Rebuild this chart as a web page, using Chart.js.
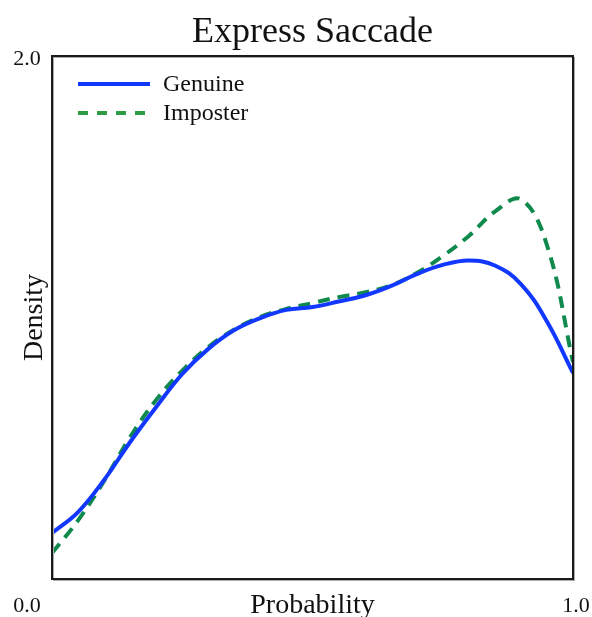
<!DOCTYPE html>
<html>
<head>
<meta charset="utf-8">
<script src="https://cdn.jsdelivr.net/npm/chart.js@4"></script>
<style>
  html, body { margin: 0; padding: 0; background: #fff; }
  #wrap { width: 592px; height: 617px; }
</style>
</head>
<body>
<div id="wrap"><canvas id="chartCanvas" width="592" height="617"></canvas></div>
<script>
// --- data ---
const probability = [0, 0.05, 0.1, 0.15, 0.2, 0.25, 0.3, 0.35, 0.4, 0.45, 0.5,
  0.55, 0.6, 0.65, 0.7, 0.75, 0.8, 0.85, 0.9, 0.95, 1.0];
const genuine = [0.176, 0.256, 0.379, 0.524, 0.658, 0.784, 0.880, 0.952, 0.998, 1.029, 1.040,
  1.061, 1.084, 1.120, 1.166, 1.201, 1.218, 1.199, 1.128, 0.985, 0.788];
const imposter = [0.099, 0.224, 0.375, 0.543, 0.685, 0.797, 0.887, 0.954, 1.002, 1.033, 1.055,
  1.078, 1.096, 1.122, 1.170, 1.235, 1.312, 1.405, 1.452, 1.277, 0.830];
const seriesNames = ["Genuine", "Imposter"];
const yTickLabels = ["0.0", "2.0"];
const xTickLabels = ["0.0", "1.0"];

const FONT = "'Liberation Serif', 'DejaVu Serif', serif";
const BLUE = "#1238ff";
const GREEN = "#0f8a4c";

const toPoints = ys => probability.map((x, i) => ({ x, y: ys[i] }));

// frame, title, tick labels, axis titles and legend drawn by hand
const decorations = {
  id: "decorations",
  afterDatasetsDraw(chart) {
    const { ctx, chartArea: a } = chart;
    ctx.save();
    // frame with a faint shadow
    ctx.strokeStyle = "#aaa";
    ctx.lineWidth = 1;
    ctx.strokeRect(a.left + 1.5, a.top + 1.5, a.right - a.left, a.bottom - a.top);
    ctx.strokeStyle = "#1a1a1a";
    ctx.lineWidth = 2;
    ctx.strokeRect(a.left, a.top, a.right - a.left, a.bottom - a.top);

    ctx.fillStyle = "#111";
    ctx.textBaseline = "alphabetic";
    // title
    ctx.font = `36px ${FONT}`;
    ctx.textAlign = "center";
    ctx.fillText("Express Saccade", (a.left + a.right) / 2, 42);

    // tick labels
    ctx.font = `22px ${FONT}`;
    ctx.textAlign = "center";
    ctx.fillText(yTickLabels[1], 27, a.top + 9);
    ctx.fillText(xTickLabels[0], 27, 612);
    ctx.fillText(xTickLabels[1], 576, 612);

    // axis titles
    ctx.font = `28px ${FONT}`;
    ctx.fillText("Probability", (a.left + a.right) / 2, 613);
    ctx.save();
    ctx.translate(42, (a.top + a.bottom) / 2);
    ctx.rotate(-Math.PI / 2);
    ctx.fillText("Density", 0, 0);
    ctx.restore();

    // legend
    const items = [
      { y: 84, color: BLUE, dash: [] },
      { y: 113, color: "#2f9c45", dash: [10, 9] }
    ];
    ctx.font = `24px ${FONT}`;
    ctx.textAlign = "left";
    ctx.textBaseline = "middle";
    items.forEach((it, i) => {
      ctx.beginPath();
      ctx.setLineDash(it.dash);
      ctx.strokeStyle = it.color;
      ctx.lineWidth = 4;
      ctx.moveTo(78, it.y);
      ctx.lineTo(150, it.y);
      ctx.stroke();
      ctx.setLineDash([]);
      ctx.fillStyle = "#111";
      ctx.fillText(seriesNames[i], 163, it.y + 1);
    });
    ctx.restore();
  }
};

new Chart(document.getElementById("chartCanvas"), {
  type: "line",
  data: {
    datasets: [
      {
        label: seriesNames[0],
        data: toPoints(genuine),
        borderColor: BLUE,
        borderWidth: 4,
        pointRadius: 0,
        tension: 0.4,
        fill: false
      },
      {
        label: seriesNames[1],
        data: toPoints(imposter),
        borderColor: GREEN,
        borderWidth: 4,
        borderDash: [12, 8],
        pointRadius: 0,
        tension: 0.4,
        fill: false
      }
    ]
  },
  options: {
    responsive: false,
    animation: false,
    layout: { padding: { left: 52, right: 19, top: 56, bottom: 38 } },
    plugins: {
      legend: { display: false },
      title: { display: false },
      tooltip: { enabled: false }
    },
    scales: {
      x: { type: "linear", min: 0, max: 1, display: false },
      y: { min: 0, max: 2, display: false }
    }
  },
  plugins: [decorations]
});
</script>
</body>
</html>
